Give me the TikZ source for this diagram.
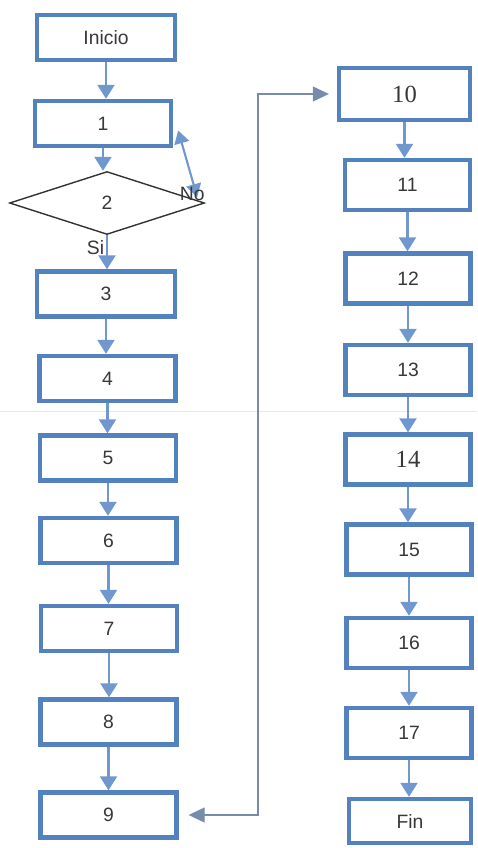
\documentclass[tikz,border=0pt]{standalone}
\usepackage{fontspec}
\setmainfont{Liberation Sans}
\newfontfamily\serifnum{Liberation Serif}
\usetikzlibrary{shapes.geometric,arrows.meta,positioning,calc,backgrounds}
\definecolor{boxblue}{RGB}{84,130,190}
\definecolor{arrblue}{RGB}{112,152,206}
\definecolor{linkgray}{RGB}{118,140,172}

\begin{document}
\begin{tikzpicture}[
  x=0.02cm, y=-0.02cm,
  font=\fontsize{11}{13}\selectfont,
  every node/.style={align=center, text=black!78},
  %% ─── box styles ─────────────────────────────────────────────
  leftbox/.style={
    draw=boxblue, fill=white, line width=2.5pt, inner sep=0pt,
    minimum width=2.72cm, minimum height=0.9cm},
  rightbox/.style={
    draw=boxblue, fill=white, line width=2.5pt, inner sep=0pt,
    minimum width=2.5cm, minimum height=1.0cm},
  decision/.style={
    draw=black!80, diamond, aspect=3.1, line width=0.8pt, inner sep=0pt,
    minimum width=3.9cm, minimum height=1.26cm},
  %% ─── arrow styles ───────────────────────────────────────────
  arr/.style={-{Triangle[width=0.34cm,length=0.28cm]}, line width=1.3pt, draw=arrblue},
  backarr/.style={{Triangle[width=0.3cm,length=0.26cm]}-{Triangle[width=0.3cm,length=0.26cm]},
    line width=1.2pt, draw=arrblue},
  link/.style={{Triangle[width=0.3cm,length=0.32cm]}-{Triangle[width=0.3cm,length=0.32cm]},
    line width=0.7pt, draw=linkgray, color=linkgray}
]
  \useasboundingbox (0,0) rectangle (477,848);

  %% ════════════════════════════════════════════════════════════
  %%  LEFT COLUMN
  %% ════════════════════════════════════════════════════════════
  \node[leftbox, minimum width=2.76cm] (inicio) at (106,37.5) {Inicio};
  \node[leftbox] (p1) at (103,123.5) {1};
  \node[decision] (dec) at (107,203) {2};
  \node[leftbox, minimum width=2.76cm] (p3) at (106,294) {3};
  \node[leftbox] (p4) at (107.5,378.5) {4};
  \node[leftbox] (p5) at (108,458) {5};
  \node[leftbox] (p6) at (108.5,540.5) {6};
  \node[leftbox] (p7) at (109,628.5) {7};
  \node[leftbox] (p8) at (108.5,722) {8};
  \node[leftbox] (p9) at (108.5,815) {9};

  %% ════════════════════════════════════════════════════════════
  %%  RIGHT COLUMN
  %% ════════════════════════════════════════════════════════════
  \node[rightbox, minimum width=2.62cm, minimum height=1.04cm] (p10) at (404.5,94)
        {\serifnum\fontsize{14}{16}\selectfont 10};
  \node[rightbox] (p11) at (407.5,185) {11};
  \node[rightbox] (p12) at (408,278.5) {12};
  \node[rightbox] (p13) at (408,370) {13};
  \node[rightbox] (p14) at (408,459.5) {\serifnum\fontsize{14}{16}\selectfont 14};
  \node[rightbox] (p15) at (409,549.5) {15};
  \node[rightbox] (p16) at (409,643) {16};
  \node[rightbox] (p17) at (409,733) {17};
  \node[rightbox, minimum width=2.44cm, minimum height=0.88cm] (fin) at (410,821) {Fin};

  %% ════════════════════════════════════════════════════════════
  %%  CONNECTORS
  %% ════════════════════════════════════════════════════════════
  \draw[arr] (inicio.south) -- (inicio.south |- p1.north);
  \draw[arr] (p1.south) -- (p1.south |- dec.north);

  % Si -> 3
  \draw[arr] (dec.south) -- node[pos=0.35, left, inner sep=1pt] {Si} (dec.south |- p3.north);

  % No -> back to 1
  \draw[backarr] ([shift={(-8,-6)}]dec.east) -- ([shift={(5,7)}]p1.east);
  \node (nolab) at ([shift={(-13,-9)}]dec.east) {No};

  \draw[arr] (p3.south) -- (p3.south |- p4.north);
  \draw[arr] (p4.south) -- (p4.south |- p5.north);
  \draw[arr] (p5.south) -- (p5.south |- p6.north);
  \draw[arr] (p6.south) -- (p6.south |- p7.north);
  \draw[arr] (p7.south) -- (p7.south |- p8.north);
  \draw[arr] (p8.south) -- (p8.south |- p9.north);

  % 9 <-> 10
  \coordinate (jog) at (258,0);
  \draw[link, shorten <=0.2cm, shorten >=0.16cm]
        (p9.east) -- (p9.east -| jog) -- (p10.west -| jog) -- (p10.west);

  \draw[arr] (p10.south) -- (p10.south |- p11.north);
  \draw[arr] (p11.south) -- (p11.south |- p12.north);
  \draw[arr] (p12.south) -- (p12.south |- p13.north);
  \draw[arr] (p13.south) -- (p13.south |- p14.north);
  \draw[arr] (p14.south) -- (p14.south |- p15.north);
  \draw[arr] (p15.south) -- (p15.south |- p16.north);
  \draw[arr] (p16.south) -- (p16.south |- p17.north);
  \draw[arr] (p17.south) -- (p17.south |- fin.north);

  %% faint rule across the page
  \begin{scope}[on background layer]
    \draw[blue!10, line width=0.4pt] (0,411) -- (477,411);
  \end{scope}

\end{tikzpicture}
\end{document}
